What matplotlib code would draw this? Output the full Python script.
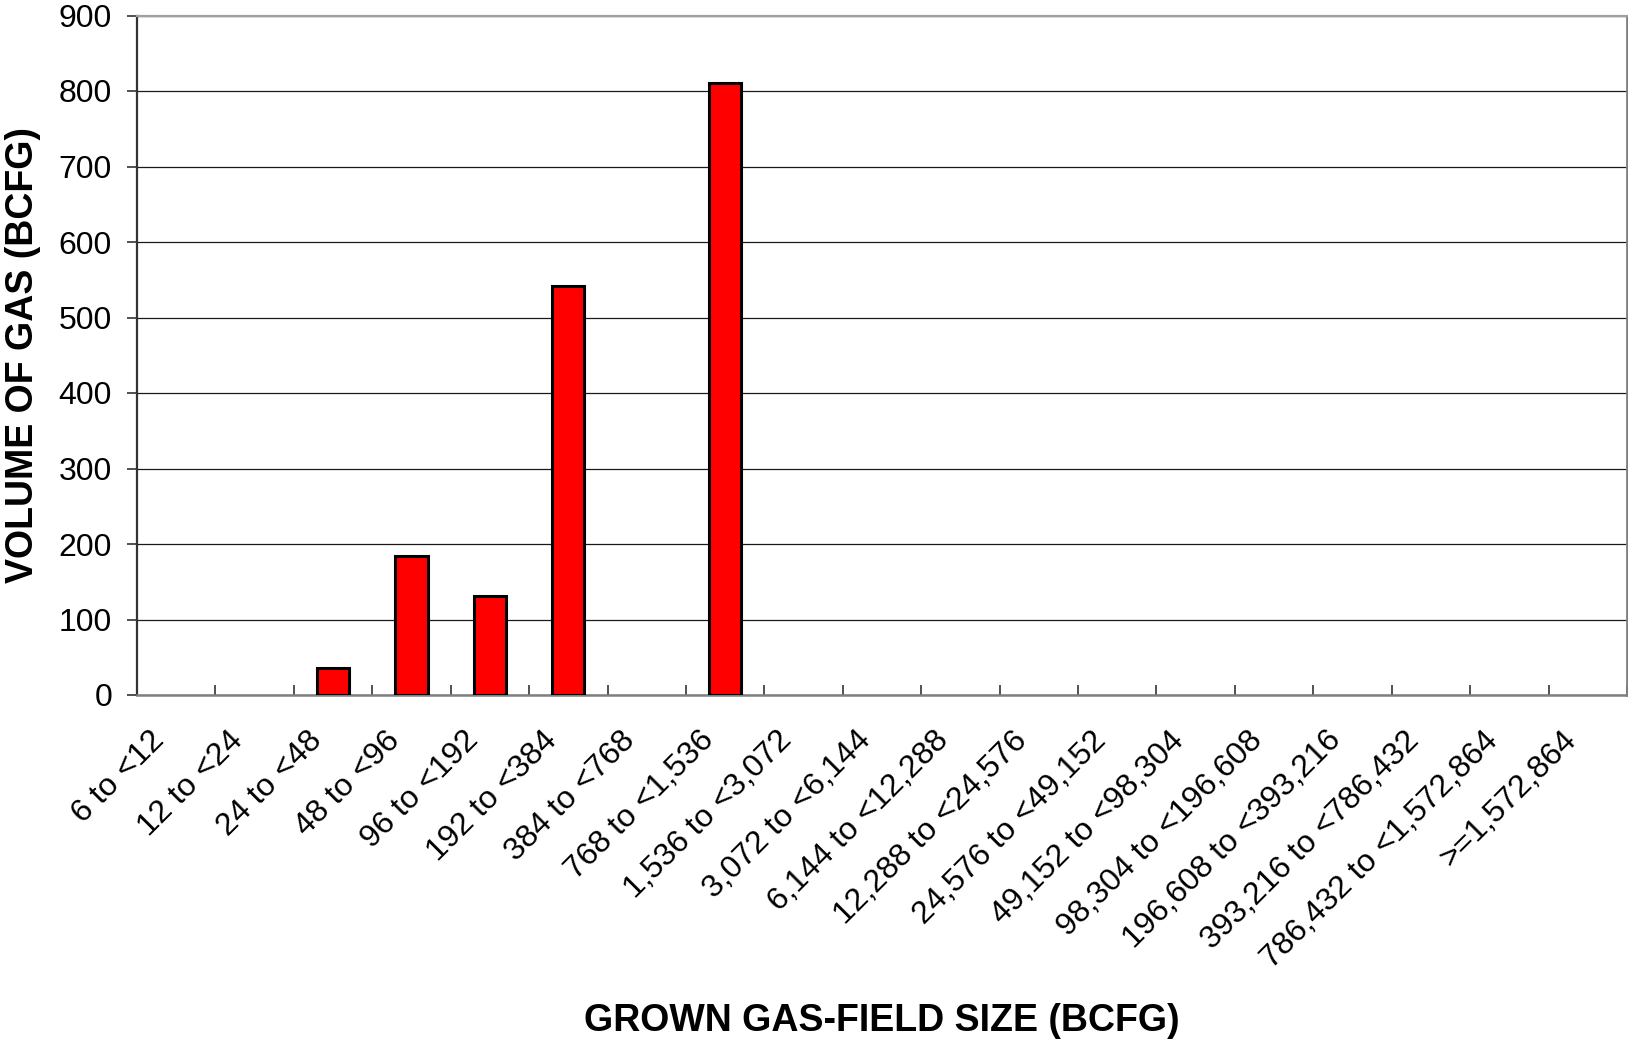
import matplotlib
matplotlib.use("Agg")
import matplotlib.pyplot as plt
from matplotlib.transforms import offset_copy, blended_transform_factory

categories = ["6 to <12", "12 to <24", "24 to <48", "48 to <96", "96 to <192",
              "192 to <384", "384 to <768", "768 to <1,536", "1,536 to <3,072",
              "3,072 to <6,144", "6,144 to <12,288", "12,288 to <24,576",
              "24,576 to <49,152", "49,152 to <98,304", "98,304 to <196,608",
              "196,608 to <393,216", "393,216 to <786,432", "786,432 to <1,572,864",
              ">=1,572,864"]
volumes = [0, 0, 36, 184, 131, 542, 0, 811, 0, 0, 0, 0, 0, 0, 0, 0, 0, 0, 0]
yticks = [0, 100, 200, 300, 400, 500, 600, 700, 800, 900]

plt.rcParams['font.family'] = ['Liberation Sans', 'DejaVu Sans']

W, H = 1628, 1040
fig = plt.figure(figsize=(W / 100, H / 100), dpi=100)
left, right, top, bottom = 137, 1627, 15.5, 695
ax = fig.add_axes([left / W, 1 - bottom / H, (right - left) / W, (bottom - top) / H])

x = list(range(len(categories)))
ax.bar(x, volumes, width=0.41, color='#ff0000', edgecolor='black',
       linewidth=[2.2 if v > 0 else 0 for v in volumes], zorder=3)

ax.set_xlim(-0.5, len(categories) - 0.5)
ax.set_ylim(0, 900)
ax.set_yticks(yticks)
ax.set_yticklabels([str(v) for v in yticks], fontsize=23)
ax.yaxis.grid(True, color='#1a1a1a', linewidth=0.9, zorder=0)
ax.set_axisbelow(True)

# boundary ticks (Excel style)
ax.set_xticks([i - 0.5 for i in range(len(categories) + 1)])
ax.set_xticklabels([])
ax.tick_params(axis='x', direction='in', length=7.5, width=1.2, color='#333333')
ax.tick_params(axis='y', direction='out', length=7, width=1.2, color='#333333', pad=11)

trans = blended_transform_factory(ax.transData, ax.transAxes)
trans = offset_copy(trans, fig=fig, x=-16, y=-41, units='dots')
for i, lab in enumerate(categories):
    ax.text(i, 0, lab, transform=trans, rotation=45, ha='right', va='center',
            rotation_mode='anchor', fontsize=23)

ax.spines['left'].set_color('#333333')
ax.spines['left'].set_linewidth(1.6)
ax.spines['bottom'].set_color('#808080')
ax.spines['bottom'].set_linewidth(1.8)
ax.spines['top'].set_color('#a0a0a0')
ax.spines['top'].set_linewidth(1.6)
ax.spines['right'].set_color('#808080')
ax.spines['right'].set_linewidth(2.0)

fig.text(23 / W, 1 - 355 / H, "VOLUME OF GAS (BCFG)", rotation=90, ha='center', va='center',
         fontsize=27, fontweight='bold')
fig.text((left + right) / 2 / W, 1 - 1031 / H, "GROWN GAS-FIELD SIZE (BCFG)", ha='center',
         va='baseline', fontsize=27, fontweight='bold')

fig.savefig("out.png", dpi=100)
